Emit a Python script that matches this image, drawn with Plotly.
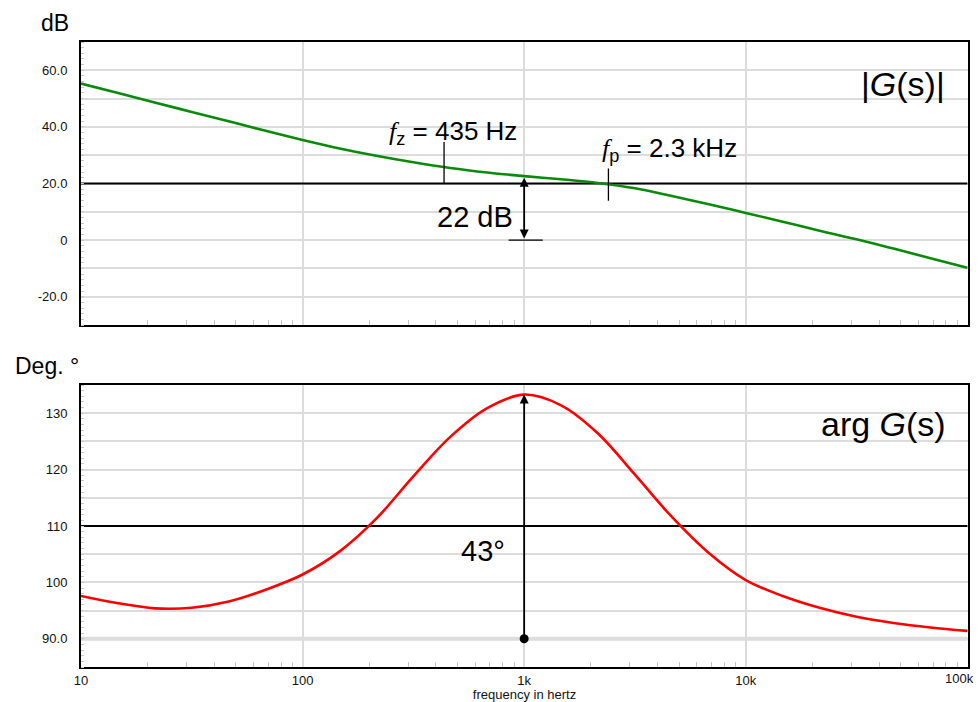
import numpy as np
import plotly.graph_objects as go

# ---------------- data ----------------
freq_mag = [10, 14.7, 21.5, 31.6, 46.4, 68.1, 100, 147, 215, 316, 464, 681, 1000,
            1468, 2154, 3162, 4642, 6813, 10000, 14678, 21544, 31623, 46416, 68129, 100000]
mag_db = [55.3, 52.0, 48.6, 45.3, 42.0, 38.6, 35.4, 32.4, 29.8, 27.5, 25.5, 23.9, 22.6,
          21.5, 20.2, 18.3, 15.6, 12.7, 9.6, 6.5, 3.3, 0.3, -3.0, -6.4, -9.8]

freq_ph = [10, 14.7, 21.5, 31.6, 46.4, 68.1, 100, 147, 215, 316, 464, 681, 1000,
           1468, 2154, 3162, 4642, 6813, 10000, 14678, 21544, 31623, 46416, 68129, 100000]
phase_deg = [97.6, 96.3, 95.4, 95.5, 96.6, 98.7, 101.4, 105.5, 111.3, 118.8, 125.8, 130.9, 133.3,
             131.4, 126.4, 119.1, 111.6, 105.2, 100.4, 97.6, 95.5, 93.9, 92.8, 92.0, 91.4]

x_tickvals = [10, 100, 1000, 10000, 100000]
x_ticktext = ["10", "100", "1k", "10k", ""]
LAST_TICK_TEXT = "100k"
x_minor = [m * 10 ** e for e in range(1, 5) for m in range(2, 10)]

db_tickvals = [-30, -20, -10, 0, 10, 20, 30, 40, 50, 60, 70]
db_ticktext = ["", "-20.0", "", "0", "", "20.0", "", "40.0", "", "60.0", ""]
deg_tickvals = [85, 90, 95, 100, 105, 110, 115, 120, 125, 130, 135]
deg_ticktext = ["", "90.0", "", "100", "", "110", "", "120", "", "130", ""]

F_SPAN = [10, 100000]
REF_DB = [20, 20]
REF_DEG = [110, 110]
BASE_DEG = [90, 90]
F_REF = 1000
GAIN_AT_REF = 22.0
PHASE_AT_REF = 133.3
FZ_MARK = [435, 435]
FZ_MARK_DB = [20, 34.7]
FP_MARK = [2400, 2400]
FP_MARK_DB = [13.9, 25.3]
BASE_SEG_F = [851, 1213]
BASE_SEG_DB = [0, 0]

FONT = "Liberation Sans, Arial, sans-serif"
GRID = "#dcdcdc"


def line_trace(xs, ys, ax, color="black", width=2):
    return go.Scatter(x=xs, y=ys, mode="lines", line=dict(color=color, width=width),
                      xaxis=ax[0], yaxis=ax[1], showlegend=False, hoverinfo="skip", cliponaxis=False)


fig = go.Figure()

# reference lines (drawn under the curves)
fig.add_trace(line_trace(F_SPAN, BASE_DEG, ("x2", "y2"), color="#dddddd", width=4))
fig.add_trace(line_trace(F_SPAN, REF_DB, ("x", "y"), width=2))
fig.add_trace(line_trace(F_SPAN, REF_DEG, ("x2", "y2"), width=2))

fig.add_trace(go.Scatter(x=freq_mag, y=mag_db, mode="lines",
                         line=dict(color="#0a8a0a", width=2.6, shape="spline", smoothing=1.0),
                         xaxis="x", yaxis="y", showlegend=False, hoverinfo="skip"))
fig.add_trace(go.Scatter(x=freq_ph, y=phase_deg, mode="lines",
                         line=dict(color="#ff0000", width=2.6, shape="spline", smoothing=1.0),
                         xaxis="x2", yaxis="y2", showlegend=False, hoverinfo="skip"))

# marker lines
for xs, ys in [(FZ_MARK, FZ_MARK_DB), (FP_MARK, FP_MARK_DB), (BASE_SEG_F, BASE_SEG_DB)]:
    fig.add_trace(line_trace(xs, ys, ("x", "y"), width=1.3))
fig.add_trace(go.Scatter(x=[F_REF], y=[BASE_DEG[0]], mode="markers", marker=dict(color="black", size=9),
                         xaxis="x2", yaxis="y2", showlegend=False, hoverinfo="skip"))

lf = np.log10
fslab = "<span style=\"font-family:'Liberation Serif', 'Times New Roman', serif\"><i>f</i></span>"
annotations = [
    # arrows
    dict(x=lf(F_REF), y=GAIN_AT_REF, ax=lf(F_REF), ay=0, xref="x", yref="y", axref="x", ayref="y",
         showarrow=True, arrowhead=2, arrowside="end+start", arrowsize=1, arrowwidth=1.8,
         arrowcolor="black", text=""),
    dict(x=lf(F_REF), y=PHASE_AT_REF, ax=lf(F_REF), ay=BASE_DEG[0], xref="x2", yref="y2", axref="x2",
         ayref="y2", showarrow=True, arrowhead=2, arrowsize=1, arrowwidth=1.8, arrowcolor="black", text=""),
    # texts
    dict(x=2.68, y=38.1, xref="x", yref="y", showarrow=False,
         text=fslab + "<sub>z</sub> = 435 Hz", font=dict(size=26, color="black", family=FONT)),
    dict(x=3.655, y=32.0, xref="x", yref="y", showarrow=False,
         text=fslab + "<sub>p</sub> = 2.3 kHz", font=dict(size=26, color="black", family=FONT)),
    dict(x=2.776, y=8.3, xref="x", yref="y", showarrow=False,
         text="22 dB", font=dict(size=29, color="black", family=FONT)),
    dict(x=2.812, y=105.6, xref="x2", yref="y2", showarrow=False,
         text="43°", font=dict(size=29, color="black", family=FONT)),
    dict(x=0.976, y=55.0, xref="paper", yref="y", xanchor="right", showarrow=False,
         text="|<i>G</i>(s)|", font=dict(size=34, color="black", family=FONT)),
    dict(x=0.977, y=128.1, xref="paper", yref="y2", xanchor="right", showarrow=False,
         text="arg <i>G</i>(s)", font=dict(size=34, color="black", family=FONT)),
    dict(x=-0.029, y=1.0304, xref="paper", yref="paper", xanchor="center", yanchor="middle", showarrow=False,
         text="dB", font=dict(size=23, color="black", family=FONT)),
    dict(x=-0.038, y=0.4816, xref="paper", yref="paper", xanchor="center", yanchor="middle", showarrow=False,
         text="Deg. °", font=dict(size=23, color="black", family=FONT)),
    # last x tick label, kept inside the page
    dict(x=1.0095, y=-0.0176, xref="paper", yref="paper", xanchor="right", yanchor="middle", showarrow=False,
         text=LAST_TICK_TEXT, font=dict(size=13, color="#111", family=FONT)),
]

XR = [1, 5.003]
common_x = dict(type="log", range=XR, tickmode="array", tickvals=x_tickvals, ticktext=x_ticktext,
                showgrid=True, gridcolor=GRID, gridwidth=1.5, zeroline=False, automargin=False,
                showline=True, linecolor="black", linewidth=2, mirror=True, ticks="",
                minor=dict(tickmode="array", tickvals=x_minor, ticks="inside", ticklen=5,
                           tickcolor="#c4c4c4", tickwidth=1, showgrid=False),
                tickfont=dict(size=13, color="#111", family=FONT))
common_y = dict(tickmode="array", showgrid=True, gridcolor=GRID, gridwidth=1.5, zeroline=False,
                showline=True, linecolor="black", linewidth=2, mirror=True, ticks="", automargin=False,
                ticklabelstandoff=9, tickfont=dict(size=13, color="#111", family=FONT))

fig.update_layout(
    width=979, height=702,
    margin=dict(l=81, r=11, t=42, b=35, autoexpand=False),
    paper_bgcolor="white", plot_bgcolor="white",
    font=dict(family=FONT, color="black"),
    xaxis=dict(common_x, anchor="y", showticklabels=False),
    yaxis=dict(common_y, domain=[0.5472, 1], range=[-30, 70], tickvals=db_tickvals, ticktext=db_ticktext,
               minor=dict(dtick=2, tick0=0, ticks="inside", ticklen=3, tickcolor="#c8c8c8", showgrid=False)),
    xaxis2=dict(common_x, anchor="y2",
                title=dict(text="frequency in hertz", font=dict(size=13, color="#111", family=FONT), standoff=4)),
    yaxis2=dict(common_y, domain=[0, 0.4512], range=[85, 135], tickvals=deg_tickvals, ticktext=deg_ticktext,
                minor=dict(dtick=1, tick0=0, ticks="inside", ticklen=3, tickcolor="#c8c8c8", showgrid=False)),
    annotations=annotations,
)

fig.write_html("out.html")
